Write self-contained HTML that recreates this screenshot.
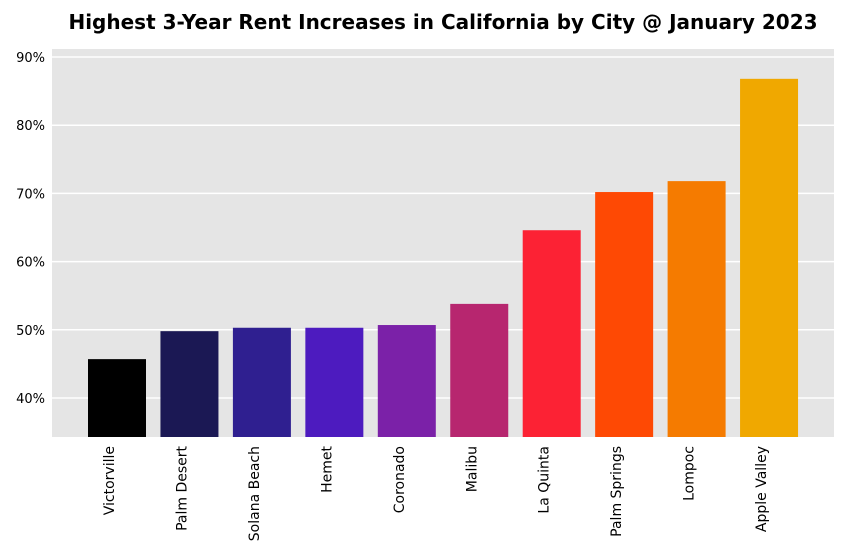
<!DOCTYPE html>
<html><head><meta charset="utf-8"><style>
body{margin:0;background:#fff;font-family:"Liberation Sans","DejaVu Sans",sans-serif}
</style></head><body>
<svg id="chart" width="847" height="554">
<text x="443" y="29" text-anchor="middle" font-size="20" font-weight="bold" fill="#000" font-family="DejaVu Sans, Liberation Sans, sans-serif">Highest 3-Year Rent Increases in California by City @ January 2023</text>
<rect x="52" y="49" width="782" height="388" fill="#e5e5e5"/>
<g id="grid"></g><g id="bars"></g><g id="yticks"></g><g id="xticks"></g>
</svg>
<script>
const categories=["Victorville","Palm Desert","Solana Beach","Hemet","Coronado","Malibu","La Quinta","Palm Springs","Lompoc","Apple Valley"];
const values=[45.7,49.8,50.3,50.3,50.7,53.8,64.6,70.2,71.8,86.8];
const colors=["#000000","#1b1854","#2f1f90","#4d1bbf","#7b21a8","#b7266f","#fc2234","#fe4904","#f57b00","#f0a800"];
const yTicks=[40,50,60,70,80,90];
const NS="http://www.w3.org/2000/svg";
const y=v=>398-(v-40)*6.82;
const x=i=>117+i*72.45;
const bw=58;
function mk(t,a,p){const e=document.createElementNS(NS,t);for(const k in a)e.setAttribute(k,a[k]);p.appendChild(e);return e;}
const grid=document.getElementById('grid'),yt=document.getElementById('yticks'),bars=document.getElementById('bars'),xt=document.getElementById('xticks');
yTicks.forEach(v=>{
 const l=mk('line',{x1:52,x2:834,y1:y(v),y2:y(v),stroke:'#fff','stroke-width':1.5},grid);
 
 
 const t=mk('text',{x:45,y:y(v)+5,'text-anchor':'end','font-size':13,fill:'#000','font-family':'DejaVu Sans, sans-serif'},yt);
 t.textContent=v+'%';
 
 
});
const base=437;
values.forEach((v,i)=>{
 const r=mk('rect',{x:x(i)-bw/2,y:y(v),width:bw,height:base-y(v),fill:colors[i]},bars);
 
 
 const t=mk('text',{transform:`translate(${x(i)-3},446) rotate(-90)`,'text-anchor':'end','font-size':14,fill:'#000','font-family':'DejaVu Sans, sans-serif'},xt);
 t.textContent=categories[i];
 
 
});
</script>
</body></html>
